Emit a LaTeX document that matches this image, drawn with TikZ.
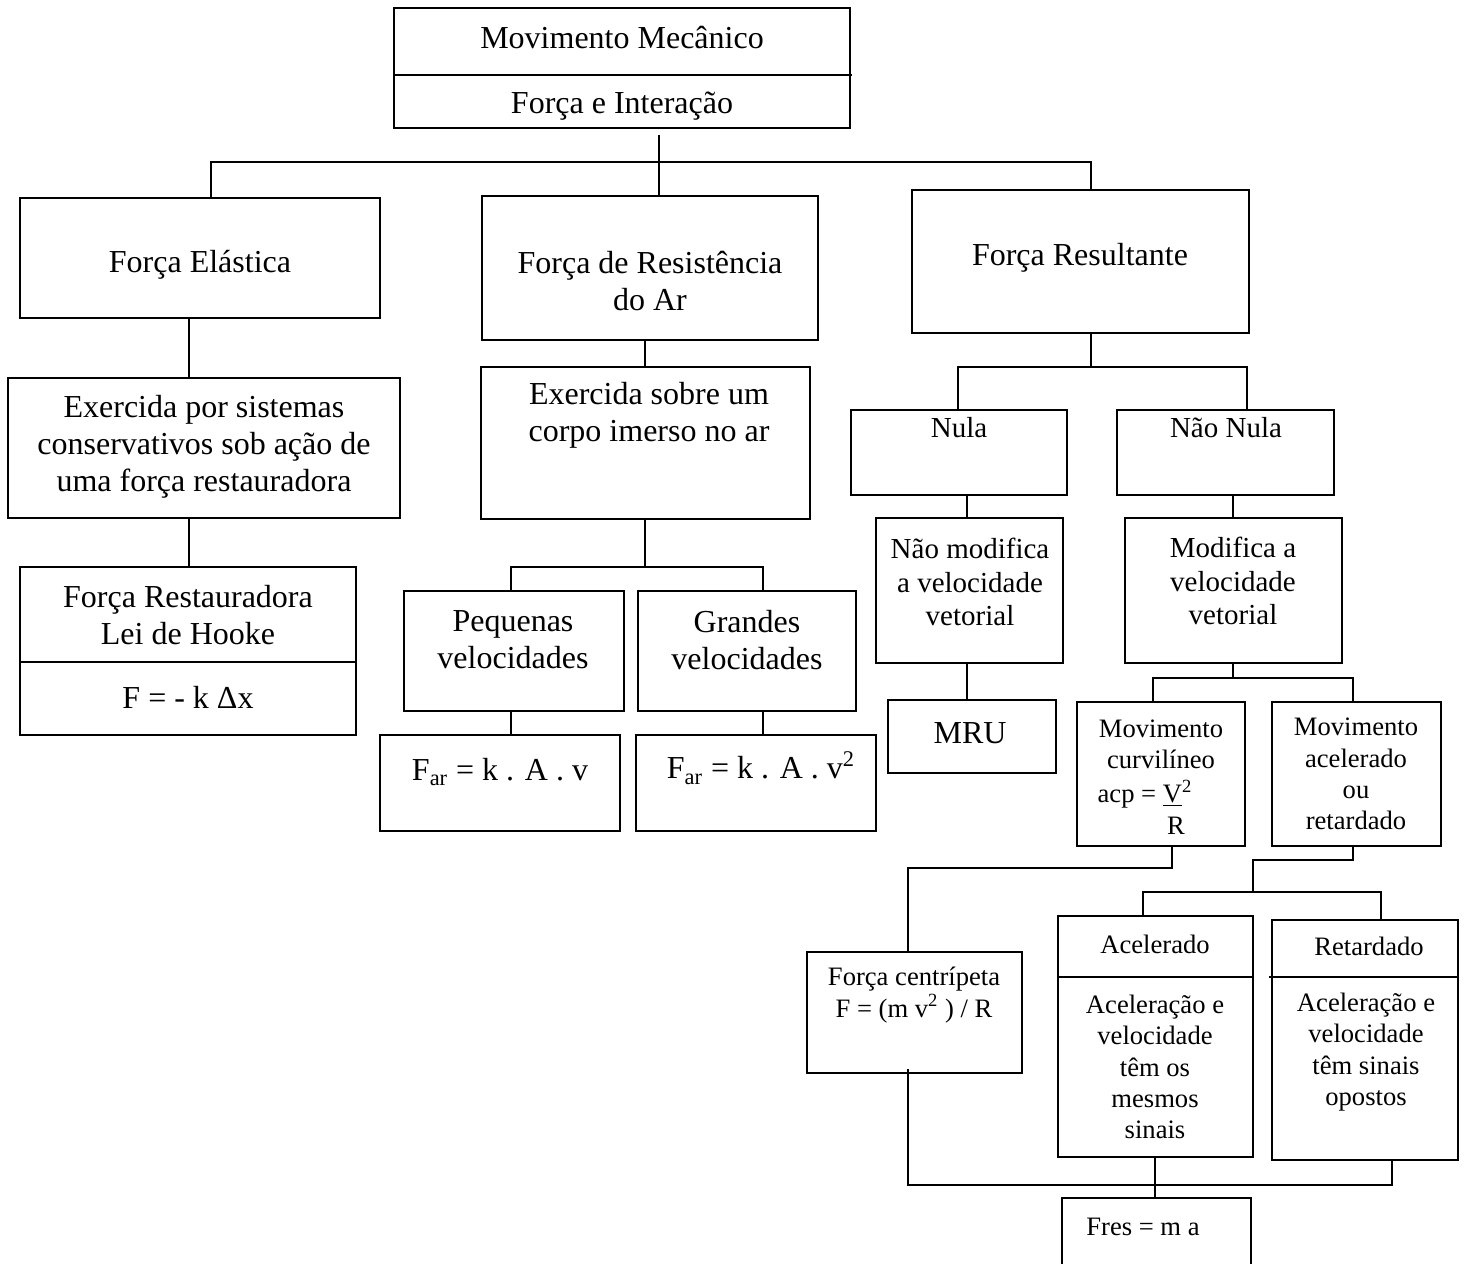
\documentclass[tikz,border=0pt]{standalone}
\usepackage{fontspec}
\setmainfont{Liberation Serif}
\usetikzlibrary{fit}

% a rectangle node spanning two corners given in pixel units
\newcommand\mkbox[5]{%
  \path (#2,#3) coordinate (#1-a) (#4,#5) coordinate (#1-b);
  \node[panel, fit=(#1-a)(#1-b)] (#1) {};}

\tikzset{
  panel/.style={draw, line width=1pt, inner sep=0pt},
  link/.style={line width=1pt},
  big/.style={align=center, inner sep=0pt, font=\fontsize{16}{18.5}\selectfont},
  mid/.style={align=center, inner sep=0pt, font=\fontsize{14.5}{16.8}\selectfont},
  small/.style={align=center, inner sep=0pt, font=\fontsize{13.3}{15.6}\selectfont},
}

\begin{document}
\begin{tikzpicture}[x=0.5pt, y=-0.5pt]
\useasboundingbox (0,0) rectangle (1473,1264);

% ---------- boxes ----------
\mkbox{top}{394}{8}{850}{128}
\mkbox{elast}{20}{198}{380}{318}
\mkbox{exerA}{8}{378}{400}{518}
\mkbox{rest}{20}{567}{356}{735}
\mkbox{resist}{482}{196}{818}{340}
\mkbox{exerB}{481}{367}{810}{519}
\mkbox{peq}{404}{591}{624}{711}
\mkbox{gran}{638}{591}{856}{711}
\mkbox{farA}{380}{735}{620}{831}
\mkbox{farB}{636}{735}{876}{831}
\mkbox{result}{912}{190}{1249}{333}
\mkbox{nula}{851}{410}{1067}{495}
\mkbox{naonula}{1117}{410}{1334}{495}
\mkbox{naomod}{876}{518}{1063}{663}
\mkbox{mod}{1125}{518}{1342}{663}
\mkbox{mru}{888}{700}{1056}{773}
\mkbox{curv}{1077}{702}{1245}{846}
\mkbox{acret}{1272}{702}{1441}{846}
\mkbox{cent}{807}{952}{1022}{1073}
\mkbox{acel}{1058}{916}{1253}{1157}
\mkbox{ret}{1272}{920}{1458}{1160}
\mkbox{fres}{1062}{1198}{1251}{1272}

% dividers inside the split boxes
\draw[link] (top.west |- 0,75) -- (852,75);
\draw[link] (rest.west |- 0,662) -- (rest.east |- 0,662);
\draw[link] (acel.west |- 0,977) -- (acel.east |- 0,977);
\draw[link] (1269,977) -- (ret.east |- 0,977);

% ---------- texts ----------
\node[big] (tTopA) at (622,38) {Movimento Mecânico};
\node[big] (tTopB) at (622,106) {Força e Interação};
\node[big] (tElast) at (200,265) {Força Elástica};
\node[big] (tExerA) at (204,447) {Exercida por sistemas\\conservativos sob ação de\\uma força restauradora};
\node[big] (tRest) at (188,615) {Força Restauradora\\Lei de Hooke};
\node[big] (tHooke) at (188,697) {F = - k Δx};
\node[big] (tResist) at (650,281) {Força de Resistência\\do Ar};
\node[big] (tExerB) at (649,415) {Exercida sobre um\\corpo imerso no ar};
\node[big] (tPeq) at (513,640) {Pequenas\\velocidades};
\node[big] (tGran) at (747,640) {Grandes\\velocidades};
\node[big] (tFarA) at (500,772) {F\textsubscript{ar} = k . A . v};
\node[big] (tFarB) at (761,768) {F\textsubscript{ar} = k . A . v\textsuperscript{2}};
\node[big] (tResult) at (1080,258) {Força Resultante};
\node[mid] (tNula) at (959,428) {Nula};
\node[mid] (tNaoNula) at (1226,428) {Não Nula};
\node[mid] (tNaoMod) at (970,582) {Não modifica\\a velocidade\\vetorial};
\node[mid] (tMod) at (1233,581) {Modifica a\\velocidade\\vetorial};
\node[big] (tMru) at (970,733) {MRU};
\node[small] (tCurv) at (1161,744) {Movimento\\curvilíneo};
\node[small] (tAcp) at (1145,794) {acp = \underline{V}\textsuperscript{2}};
\node[small] (tR) at (1176,826) {R};
\node[small] (tAcRet) at (1356,774) {Movimento\\acelerado\\ou\\retardado};
\node[small] (tCent) at (914,995) {Força centrípeta\\F = (m v\textsuperscript{2} ) / R};
\node[small] (tAcel) at (1155,944) {Acelerado};
\node[small] (tAcelB) at (1155,1067) {Aceleração e\\velocidade\\têm os\\mesmos\\sinais};
\node[small] (tRet) at (1369,946) {Retardado};
\node[small] (tRetB) at (1366,1052) {Aceleração e\\velocidade\\têm sinais\\opostos};
\node[small] (tFres) at (1143,1227) {Fres = m a};

% ---------- connectors ----------
\coordinate (busTop) at (659,162);
\draw[link] ([yshift=-3pt]top.south -| busTop) -- (busTop);
\draw[link] (211,0 |- elast.north) -- (211,162) -- (1091,162) -- (1091,0 |- result.north);
\draw[link] (busTop) -- (busTop |- resist.north);

\draw[link] (189,0 |- elast.south) -- (189,0 |- exerA.north);
\draw[link] (189,0 |- exerA.south) -- (189,0 |- rest.north);

\draw[link] (645,0 |- resist.south) -- (645,0 |- exerB.north);
\draw[link] (645,0 |- exerB.south) -- (645,567);
\draw[link] (511,0 |- peq.north) -- (511,567) -- (763,567) -- (763,0 |- gran.north);
\draw[link] (511,0 |- peq.south) -- (511,0 |- farA.north);
\draw[link] (763,0 |- gran.south) -- (763,0 |- farB.north);

\draw[link] (1091,0 |- result.south) -- (1091,367);
\draw[link] (958,0 |- nula.north) -- (958,367) -- (1247,367) -- (1247,0 |- naonula.north);
\draw[link] (967,0 |- nula.south) -- (967,0 |- naomod.north);
\draw[link] (1233,0 |- naonula.south) -- (1233,0 |- mod.north);
\draw[link] (967,0 |- naomod.south) -- (967,0 |- mru.north);
\draw[link] (1233,0 |- mod.south) -- (1233,678);
\draw[link] (1153,0 |- curv.north) -- (1153,678) -- (1353,678) -- (1353,0 |- acret.north);

\draw[link] (1172,0 |- curv.south) -- (1172,868) -- (908,868) -- (908,0 |- cent.north);
\draw[link] (1353,0 |- acret.south) -- (1353,860) -- (1253,860) -- (1253,892);
\draw[link] (1143,0 |- acel.north) -- (1143,892) -- (1381,892) -- (1381,0 |- ret.north);

\draw[link] ([yshift=2.5pt]cent.south -| 908,0) -- (908,1185) -- (1392,1185) -- (1392,0 |- ret.south);
\draw[link] (1155,0 |- acel.south) -- (1155,0 |- fres.north);
\end{tikzpicture}
\end{document}
